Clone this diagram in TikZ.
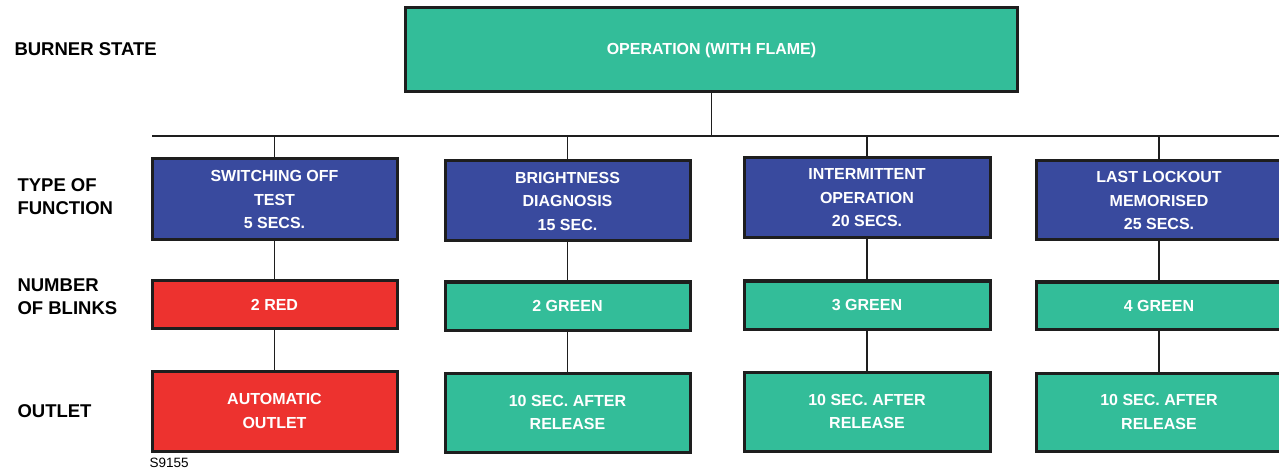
\documentclass[tikz,border=0pt]{standalone}
\usepackage{fontspec}
\setmainfont{Liberation Sans}
\definecolor{teal}{RGB}{51,189,153}
\definecolor{bblue}{RGB}{57,74,158}
\definecolor{rred}{RGB}{237,50,47}
\definecolor{edge}{RGB}{30,30,30}
\begin{document}
\begin{tikzpicture}[x=1pt,y=-1pt,
  box/.style={draw=edge, line width=3pt, inner sep=0pt, align=center, text=white,
    font=\bfseries\fontsize{16}{23.5}\selectfont},
  gbox/.style={box, fill=teal},
  bbox/.style={box, fill=bblue},
  rbox/.style={box, fill=rred},
  side/.style={anchor=west, align=left, font=\bfseries\fontsize{18.5}{23}\selectfont},
  conn/.style={draw=edge, line width=1.8pt}]
\useasboundingbox (0,0) rectangle (1279,470);
% top
\node[gbox, minimum width=612pt, minimum height=84pt] (top) at (711.5,50) {OPERATION (WITH FLAME)};
% row 2
\node[bbox, minimum width=245pt, minimum height=81pt] (b1) at (274.5,199.5) {SWITCHING OFF\\TEST\\5 SECS.};
\node[bbox, minimum width=245pt, minimum height=80pt] (b2) at (567.5,201) {BRIGHTNESS\\DIAGNOSIS\\15 SEC.};
\node[bbox, minimum width=246pt, minimum height=80pt] (b3) at (867,198) {INTERMITTENT\\OPERATION\\20 SECS.};
\node[bbox, minimum width=246pt, minimum height=79pt] (b4) at (1159,200.5) {LAST LOCKOUT\\MEMORISED\\25 SECS.};
% row 3
\node[rbox, minimum width=245pt, minimum height=48pt] (c1) at (274.5,304.5) {2 RED};
\node[gbox, minimum width=245pt, minimum height=48pt] (c2) at (567.5,306) {2 GREEN};
\node[gbox, minimum width=246pt, minimum height=48pt] (c3) at (867,305) {3 GREEN};
\node[gbox, minimum width=246pt, minimum height=47pt] (c4) at (1159,305.5) {4 GREEN};
% row 4
\node[rbox, minimum width=245pt, minimum height=80pt] (d1) at (274.5,411) {AUTOMATIC\\OUTLET};
\node[gbox, minimum width=245pt, minimum height=79pt] (d2) at (567.5,412.5) {10 SEC. AFTER\\RELEASE};
\node[gbox, minimum width=246pt, minimum height=79pt] (d3) at (867,411.5) {10 SEC. AFTER\\RELEASE};
\node[gbox, minimum width=246pt, minimum height=78pt] (d4) at (1159,412) {10 SEC. AFTER\\RELEASE};
% side labels
\node[side] (l1) at (11,49) {BURNER STATE};
\node[side] (l2) at (14,196.5) {TYPE OF\\FUNCTION};
\node[side] (l3) at (14,297) {NUMBER\\OF BLINKS};
\node[side] (l4) at (14,411) {OUTLET};
\node[anchor=west, font=\fontsize{13.5}{15}\selectfont] (s) at (146,463) {S9155};
% connectors
\coordinate (busL) at (152,136);
\coordinate (busR) at (1279,136);
\draw[conn] (top.south) -- (top.south |- busL);
\draw[conn] (busL) -- (busR);
\foreach \i in {1,2,3,4}{
  \draw[conn] (b\i.north |- busL) -- (b\i.north);
  \draw[conn] (b\i.south) -- (c\i.north);
  \draw[conn] (c\i.south) -- (d\i.north);
}
\end{tikzpicture}
\end{document}
